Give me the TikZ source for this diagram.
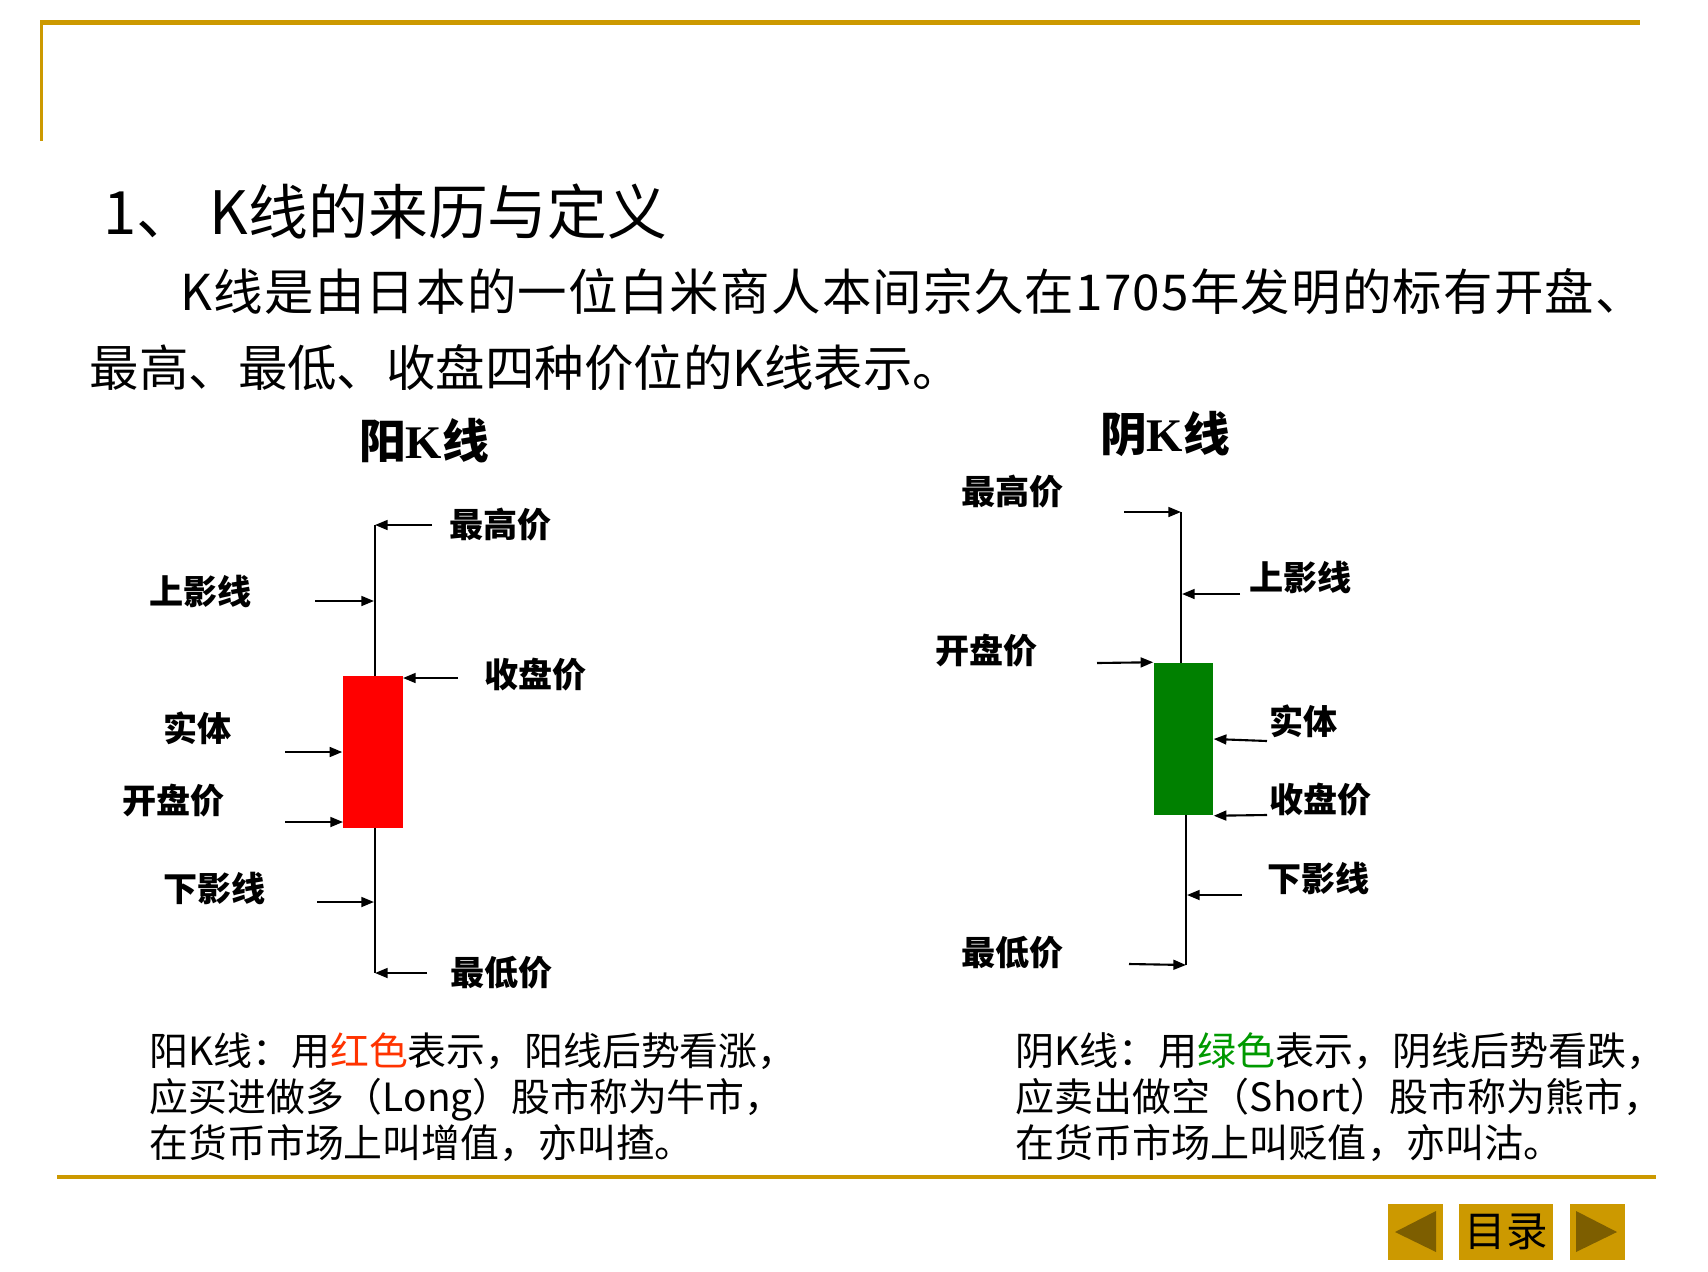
\documentclass[tikz,border=0pt]{standalone}
\usepackage{fontspec}
\setmainfont{Noto Sans CJK SC}
\newfontfamily\tms{Liberation Serif}
\usetikzlibrary{arrows.meta}
\definecolor{gold}{RGB}{204,153,0}
\definecolor{darkgold}{RGB}{125,94,0}
\definecolor{redtxt}{RGB}{255,51,0}
\definecolor{greentxt}{RGB}{0,153,0}
\definecolor{candlegreen}{RGB}{0,128,0}
\begin{document}
\begin{tikzpicture}[x=0.01cm,y=-0.01cm,
  lbl/.style={inner sep=0,anchor=west,font=\fontsize{9.7}{11}\selectfont\bfseries},
  arr/.style={line width=0.6pt,-{Triangle[length=3.6pt,width=2.8pt]}},
  txt/.style={inner sep=0,anchor=west,align=left}]
\useasboundingbox (0,0) rectangle (1708,1272);
\fill[gold] (40,20) rectangle (1640,25);
\fill[gold] (40,20) rectangle (43,141);
\fill[gold] (57,1175) rectangle (1656,1179);
\node[txt,font=\fontsize{17}{20}\selectfont] (title) at (103,212) {1、 K线的来历与定义};
\node[txt,font=\fontsize{14.06}{16}\selectfont\addfontfeatures{LetterSpace=2.5}] (intro1) at (180,292) {K线是由日本的一位白米商人本间宗久在1705年发明的标有开盘、};
\node[txt,font=\fontsize{14.06}{16}\selectfont] (intro2) at (89,368) {最高、最低、收盘四种价位的K线表示。};
\node[font=\fontsize{13.3}{15}\selectfont\bfseries] (yanghead) at (424,441) {阳{\tms K}线};
\node[font=\fontsize{13.3}{15}\selectfont\bfseries] (yinhead) at (1165,434) {阴{\tms K}线};
\coordinate (yangtop) at (375,525);
\coordinate (yangbot) at (375,973);
\draw[line width=0.7pt] (yangtop) -- (yangbot);
\node[fill=red,inner sep=0,minimum width=0.6cm,minimum height=1.52cm] (yangbody) at (373,752) {};
\coordinate (yhiT) at (432,525);
\draw[arr] (yhiT) -- (yangtop);
\node[lbl] (yhi) at (449,525) {最高价};
\coordinate (yupT) at (315,601);
\coordinate (yupH) at (374,601);
\draw[arr] (yupT) -- (yupH);
\node[lbl] (yup) at (149,591) {上影线};
\coordinate (ycloseT) at (458,678);
\coordinate (ycloseH) at (403,678);
\draw[arr] (ycloseT) -- (ycloseH);
\node[lbl] (yclose) at (484,675) {收盘价};
\coordinate (ybodyT) at (285,752);
\draw[arr] (ybodyT) -- (yangbody.west);
\node[lbl] (ybody) at (163,728) {实体};
\coordinate (yopenT) at (285,822);
\coordinate (yopenH) at (343,822);
\draw[arr] (yopenT) -- (yopenH);
\node[lbl] (yopen) at (122,801) {开盘价};
\coordinate (ydownT) at (317,902);
\coordinate (ydownH) at (374,902);
\draw[arr] (ydownT) -- (ydownH);
\node[lbl] (ydown) at (163,888) {下影线};
\coordinate (yloT) at (427,973);
\draw[arr] (yloT) -- (yangbot);
\node[lbl] (ylo) at (450,973) {最低价};
\coordinate (yintop) at (1181,512);
\coordinate (yinmid) at (1181,663);
\coordinate (yinlow) at (1186,815);
\coordinate (yinbot) at (1186,965);
\draw[line width=0.7pt] (yintop) -- (yinmid);
\draw[line width=0.7pt] (yinlow) -- (yinbot);
\node[fill=candlegreen,inner sep=0,minimum width=0.59cm,minimum height=1.52cm] (yinbody) at (1183.5,739) {};
\coordinate (ghiT) at (1124,512);
\draw[arr] (ghiT) -- (yintop);
\node[lbl] (ghi) at (961,492) {最高价};
\coordinate (gupT) at (1240,594);
\coordinate (gupH) at (1182,594);
\draw[arr] (gupT) -- (gupH);
\node[lbl] (gup) at (1249,577) {上影线};
\coordinate (gopenT) at (1097,663);
\draw[arr] (gopenT) -- (yinbody.north west);
\node[lbl] (gopen) at (935,651) {开盘价};
\coordinate (gbodyT) at (1267,741);
\draw[arr] (gbodyT) -- (yinbody.east);
\node[lbl] (gbody) at (1269,721) {实体};
\coordinate (gcloseT) at (1267,815);
\draw[arr] (gcloseT) -- (yinbody.south east);
\node[lbl] (gclose) at (1269,800) {收盘价};
\coordinate (gdownT) at (1242,895);
\coordinate (gdownH) at (1187,895);
\draw[arr] (gdownT) -- (gdownH);
\node[lbl] (gdown) at (1267,878) {下影线};
\coordinate (gloT) at (1129,964);
\draw[arr] (gloT) -- (yinbot);
\node[lbl] (glo) at (961,953) {最低价};
\node[txt,font=\fontsize{11.05}{13.1}\selectfont] (yangnote) at (149,1097) {阳K线：用{\color{redtxt}红色}表示，阳线后势看涨，\\应买进做多（Long）股市称为牛市，\\在货币市场上叫增值，亦叫揸。};
\node[txt,font=\fontsize{11.1}{13.1}\selectfont] (yinnote) at (1015,1097) {阴K线：用{\color{greentxt}绿色}表示，阴线后势看跌，\\应卖出做空（Short）股市称为熊市，\\在货币市场上叫贬值，亦叫沽。};
\fill[gold] (1388,1204) rectangle (1443,1260);
\fill[darkgold] (1395,1232) -- (1436,1211) -- (1436,1252) -- cycle;
\node[fill=gold,inner sep=0,minimum width=0.94cm,minimum height=0.56cm,font=\fontsize{11.8}{14}\selectfont] (toc) at (1506,1232) {目录};
\fill[gold] (1570,1204) rectangle (1625,1260);
\fill[darkgold] (1617,1232) -- (1576,1211) -- (1576,1252) -- cycle;
\end{tikzpicture}
\end{document}
